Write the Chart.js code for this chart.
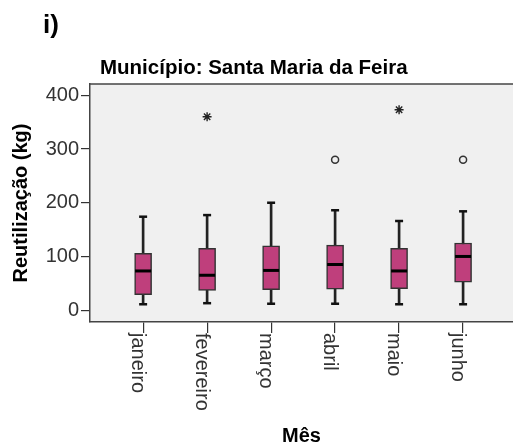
<!DOCTYPE html>
<html>
<head>
<meta charset="utf-8">
<script src="https://cdn.jsdelivr.net/npm/chart.js@4/dist/chart.umd.min.js"></script>
<style>
  body { margin: 0; background: #fff; }
  canvas { display: block; }
</style>
</head>
<body>
<canvas id="chart" width="513" height="448"></canvas>
<script>
// --- data ---
const months = ["janeiro", "fevereiro", "março", "abril", "maio", "junho"];
const whiskerLow = [11, 13, 12, 12, 11, 11];
const q1 = [29, 37, 38, 39, 40, 52];
const median = [73, 65, 74, 85, 73, 100];
const q3 = [106, 115, 120, 121, 115, 125];
const whiskerHigh = [174, 177, 200, 186, 166, 184];
const outlierMonth = ["abril", "junho"];
const outlierValue = [280, 280];
const extremeMonth = ["fevereiro", "maio"];
const extremeValue = [360, 373];
const yTicks = [0, 100, 200, 300, 400];

const FONT = '"Liberation Sans", Arial, sans-serif';
const pos = m => months.indexOf(m) + 1;

const canvas = document.getElementById("chart");
const ctx = canvas.getContext("2d");

// plot background, top frame line and the text SPSS puts around the plot
const frame = {
    id: "frame",
    beforeDraw(chart) {
        const a = chart.chartArea;
        const c = chart.ctx;
        c.save();
        c.fillStyle = "#f0f0f0";
        c.fillRect(a.left, a.top, a.right - a.left, a.bottom - a.top);
        c.restore();
    },
    afterDraw(chart) {
        const a = chart.chartArea;
        const c = chart.ctx;
        c.save();
        c.strokeStyle = "#444";
        c.lineWidth = 1.5;
        c.beginPath();
        c.moveTo(a.left, a.top);
        c.lineTo(a.right, a.top);
        c.stroke();

        // rotated month labels, reading top to bottom
        const xs = chart.scales.x;
        c.fillStyle = "#333";
        c.font = "20px " + FONT;
        c.textAlign = "left";
        c.textBaseline = "alphabetic";
        months.forEach((m, i) => {
            const px = xs.getPixelForValue(i + 1);
            c.save();
            c.translate(px - 11, a.bottom + 11);
            c.rotate(Math.PI / 2);
            c.fillText(m, 0, 0);
            c.restore();
        });

        c.fillStyle = "#000";
        c.font = "bold 20.5px " + FONT;
        c.fillText("Município: Santa Maria da Feira", 100, 74);
        c.font = 'bold 26px "Liberation Sans Narrow", ' + FONT;
        c.fillText("i)", 43, 33);
        c.restore();
    }
};

new Chart(ctx, {
    type: "bar",
    data: {
        datasets: [
            {
                type: "scatter",
                order: 1,
                data: outlierMonth.map((m, i) => ({ x: pos(m), y: outlierValue[i] })),
                pointStyle: "circle",
                radius: 3.5,
                backgroundColor: "#f0f0f0",
                borderColor: "#333",
                borderWidth: 1.5
            },
            {
                type: "scatter",
                order: 1,
                data: extremeMonth.map((m, i) => ({ x: pos(m), y: extremeValue[i] })),
                pointStyle: "star",
                radius: 4.5,
                borderColor: "#222",
                borderWidth: 1.4
            },
            {
                type: "scatter",
                order: 2,
                data: months.map((m, i) => ({ x: i + 1, y: median[i] })),
                pointStyle: "line",
                radius: 8,
                borderColor: "#000",
                borderWidth: 3
            },
            {
                type: "scatter",
                order: 2,
                data: months.map((m, i) => ({ x: i + 1, y: whiskerLow[i] }))
                    .concat(months.map((m, i) => ({ x: i + 1, y: whiskerHigh[i] }))),
                pointStyle: "line",
                radius: 4,
                borderColor: "#111",
                borderWidth: 2.5
            },
            {
                order: 3,
                grouped: false,
                data: months.map((m, i) => ({ x: i + 1, y: [q1[i], q3[i]] })),
                barThickness: 17,
                backgroundColor: "#bf3f7c",
                borderColor: "#333",
                borderWidth: 1.5,
                borderSkipped: false
            },
            {
                order: 4,
                grouped: false,
                data: months.map((m, i) => ({ x: i + 1, y: [whiskerLow[i], whiskerHigh[i]] })),
                barThickness: 2,
                backgroundColor: "#222",
                borderWidth: 0
            }
        ]
    },
    options: {
        responsive: false,
        animation: false,
        events: [],
        layout: { autoPadding: false, padding: { top: 84, left: 0, right: 0, bottom: 0 } },
        plugins: {
            legend: { display: false },
            tooltip: { enabled: false }
        },
        scales: {
            x: {
                type: "linear",
                offset: false,
                min: 0.17,
                max: 6.78,
                afterBuildTicks: s => { s.ticks = months.map((m, i) => ({ value: i + 1 })); },
                afterFit: s => { s.height = 126; },
                grid: { offset: false, drawOnChartArea: false, drawTicks: true, tickLength: 11, color: "#333", lineWidth: 1.2 },
                border: { display: true, color: "#444", width: 1.5 },
                ticks: { display: false },
                title: {
                    display: true,
                    text: "Mês",
                    color: "#000",
                    font: { family: FONT, size: 20, weight: "bold" },
                    padding: { top: 0, bottom: 0 }
                }
            },
            y: {
                min: -22,
                max: 421,
                afterBuildTicks: s => { s.ticks = yTicks.map(v => ({ value: v })); },
                afterFit: s => { s.width = 90; },
                grid: { drawOnChartArea: false, drawTicks: true, tickLength: 9, color: "#333", lineWidth: 1.2 },
                border: { display: true, color: "#444", width: 1.5 },
                ticks: {
                    color: "#333",
                    padding: 2,
                    font: { family: FONT, size: 20 }
                },
                title: {
                    display: true,
                    text: "Reutilização (kg)",
                    color: "#000",
                    font: { family: FONT, size: 20, weight: "bold" },
                    padding: { top: 9, bottom: 0 }
                }
            }
        }
    },
    plugins: [frame]
});
</script>
</body>
</html>
